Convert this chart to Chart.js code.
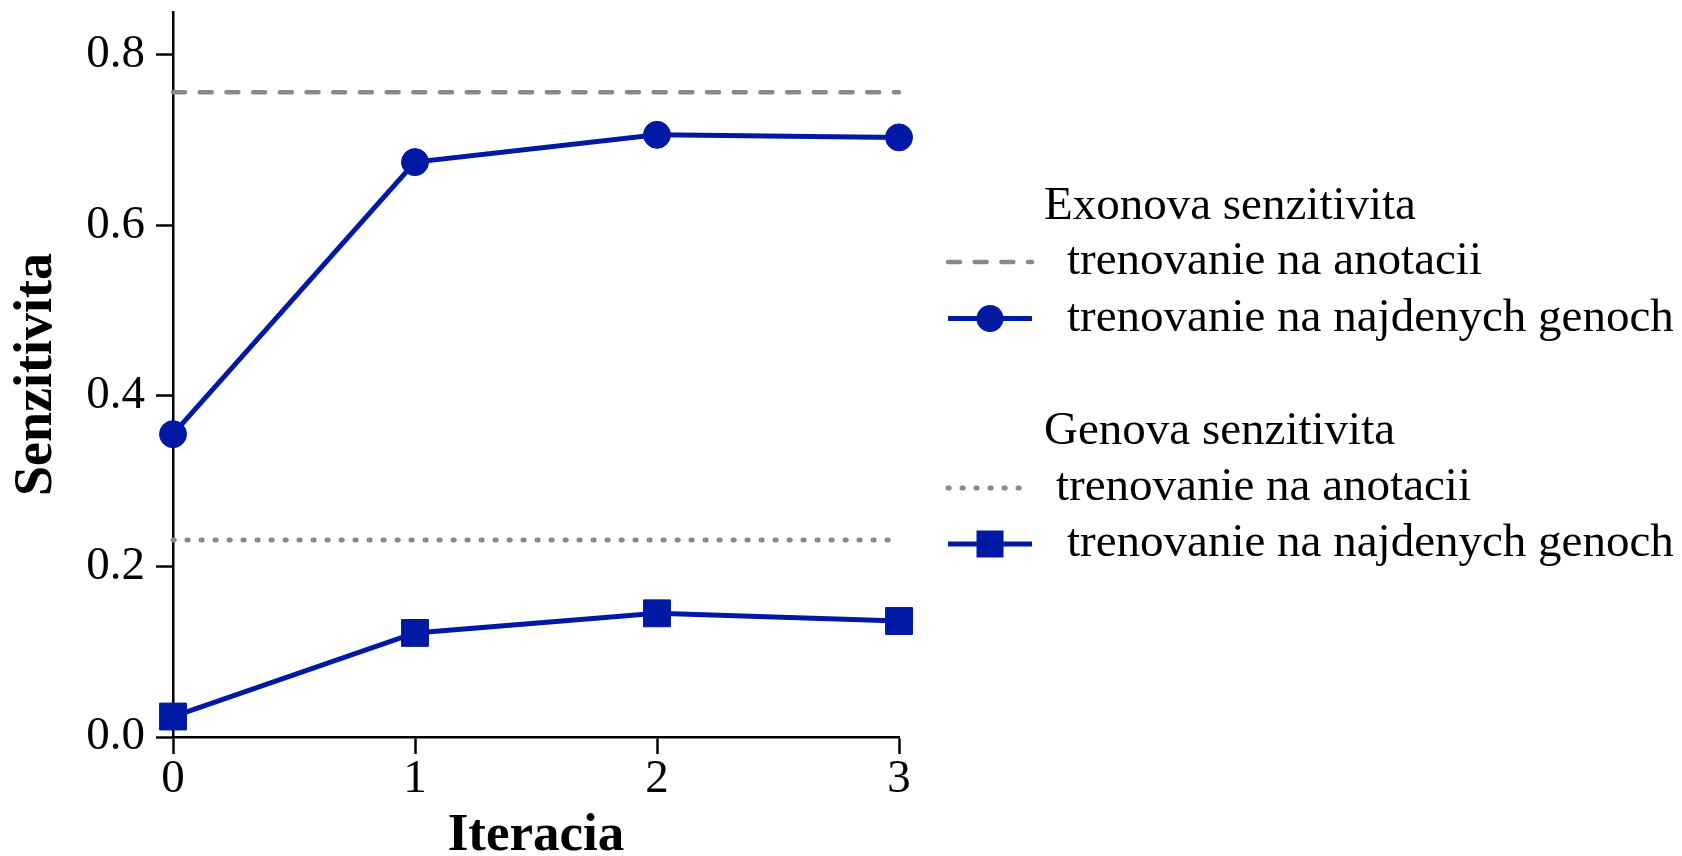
<!DOCTYPE html>
<html>
<head>
<meta charset="utf-8">
<script src="https://cdn.jsdelivr.net/npm/chart.js@4.4.1/dist/chart.umd.min.js"></script>
<style>
  html, body { margin: 0; padding: 0; background: #fff; }
</style>
</head>
<body>
<canvas id="chart" width="1682" height="856"></canvas>
<script>
const iterations = [0, 1, 2, 3];
const exonAnnot = [0.756, 0.756, 0.756, 0.756];
const exonFound = [0.355, 0.674, 0.706, 0.703];
const geneAnnot = [0.231, 0.231, 0.231, 0.231];
const geneFound = [0.024, 0.122, 0.145, 0.136];

const xTicks = [0, 1, 2, 3];
const yTicks = [0, 0.2, 0.4, 0.6, 0.8];

const xTitle = "Iteracia";
const yTitle = "Senzitivita";
const groupTitles = ["Exonova senzitivita", "Genova senzitivita"];
const seriesLabels = [
  "trenovanie na anotacii",
  "trenovanie na najdenych genoch",
  "trenovanie na anotacii",
  "trenovanie na najdenych genoch"
];

const BLUE = "#0019a5";
const GREY = "#898989";
const FONT = '"Liberation Serif", "Times New Roman", serif';

function points(ys) {
  return iterations.map((x, i) => ({ x: x, y: ys[i] }));
}

/* ===============================
   LEGENDA (skupiny s nadpismi)
================================ */
const groupLegend = {
  id: "groupLegend",
  afterDraw(chart) {
    const ctx = chart.ctx;
    const ds = chart.data.datasets;
    const rows = [
      { title: groupTitles[0], y: 207 },
      { ds: 0, y: 262, tx: 1067 },
      { ds: 1, y: 318.5, tx: 1067 },
      { title: groupTitles[1], y: 432 },
      { ds: 2, y: 488, tx: 1056 },
      { ds: 3, y: 544, tx: 1067 }
    ];
    const x0 = 948, x1 = 1032;

    ctx.save();
    ctx.font = "47px " + FONT;
    ctx.fillStyle = "#000";
    ctx.textBaseline = "middle";
    ctx.textAlign = "left";

    rows.forEach(r => {
      if (r.title) {
        ctx.fillText(r.title, 1044, r.y);
        return;
      }
      const d = ds[r.ds];
      ctx.save();
      ctx.strokeStyle = d.borderColor;
      ctx.lineWidth = d.borderWidth;
      ctx.lineCap = d.borderCapStyle || "butt";
      ctx.setLineDash(d.borderDash || []);
      ctx.beginPath();
      ctx.moveTo(x0, r.y);
      ctx.lineTo(x1, r.y);
      ctx.stroke();
      ctx.setLineDash([]);
      const cx = 990;
      if (d.pointRadius > 0) {
        ctx.fillStyle = d.pointBackgroundColor;
        if (d.pointStyle === "rect") {
          ctx.fillRect(cx - 13.5, r.y - 13.5, 27, 27);
        } else {
          ctx.beginPath();
          ctx.arc(cx, r.y, 13.5, 0, Math.PI * 2);
          ctx.fill();
        }
      }
      ctx.restore();
      ctx.fillText(seriesLabels[r.ds], r.tx, r.y);
    });
    ctx.restore();
  }
};

const ctx = document.getElementById("chart");

new Chart(ctx, {
  type: "line",
  data: {
    datasets: [
      {
        label: seriesLabels[0],
        data: points(exonAnnot),
        borderColor: GREY,
        borderWidth: 4.5,
        borderDash: [12, 14.7],
        borderCapStyle: "round",
        pointRadius: 0,
        clip: false
      },
      {
        label: seriesLabels[1],
        data: points(exonFound),
        borderColor: BLUE,
        borderWidth: 5,
        pointStyle: "circle",
        pointRadius: 13.5,
        pointBorderWidth: 1,
        pointBackgroundColor: BLUE,
        pointBorderColor: BLUE,
        clip: false
      },
      {
        label: seriesLabels[2],
        data: points(geneAnnot),
        borderColor: GREY,
        borderWidth: 5,
        borderDash: [1.2, 12.8],
        borderCapStyle: "round",
        pointRadius: 0,
        clip: false
      },
      {
        label: seriesLabels[3],
        data: points(geneFound),
        borderColor: BLUE,
        borderWidth: 5,
        pointStyle: "rect",
        pointRadius: 19,
        pointBorderWidth: 1,
        pointBackgroundColor: BLUE,
        pointBorderColor: BLUE,
        clip: false
      }
    ]
  },
  options: {
    responsive: false,
    animation: false,
    events: [],
    layout: { autoPadding: false, padding: { top: 12, right: 783, bottom: 0, left: 0 } },
    plugins: {
      legend: { display: false },
      tooltip: { enabled: false }
    },
    scales: {
      x: {
        type: "linear",
        min: 0,
        max: 3,
        afterBuildTicks: s => { s.ticks = xTicks.map(v => ({ value: v })); },
        afterFit: s => { s.height = 119; s.paddingLeft = 0; s.paddingRight = 0; },
        border: { display: true, color: "#000", width: 2.5 },
        grid: {
          drawOnChartArea: false,
          drawTicks: true,
          tickLength: 17,
          tickColor: "#000",
          tickWidth: 2.5
        },
        ticks: {
          color: "#000",
          padding: -3,
          maxRotation: 0,
          font: { family: FONT, size: 47 },
          callback: v => String(v)
        },
        title: {
          display: true,
          text: xTitle,
          color: "#000",
          padding: { top: 0, bottom: 0 },
          font: { family: FONT, size: 53, weight: "bold", lineHeight: 0.74 }
        }
      },
      y: {
        type: "linear",
        min: 0,
        max: 0.85,
        afterBuildTicks: s => { s.ticks = yTicks.map(v => ({ value: v })); },
        afterFit: s => { s.width = 173; s.paddingTop = 0; s.paddingBottom = 0; },
        border: { display: true, color: "#000", width: 2.5 },
        grid: {
          drawOnChartArea: false,
          drawTicks: true,
          tickLength: 17,
          tickColor: "#000",
          tickWidth: 2.5
        },
        ticks: {
          color: "#000",
          padding: 11,
          font: { family: FONT, size: 47 },
          callback: v => v.toFixed(1)
        },
        title: {
          display: true,
          text: yTitle,
          color: "#000",
          padding: { top: 5, bottom: 0 },
          font: { family: FONT, size: 54, weight: "bold" }
        }
      }
    }
  },
  plugins: [groupLegend]
});
</script>
</body>
</html>
